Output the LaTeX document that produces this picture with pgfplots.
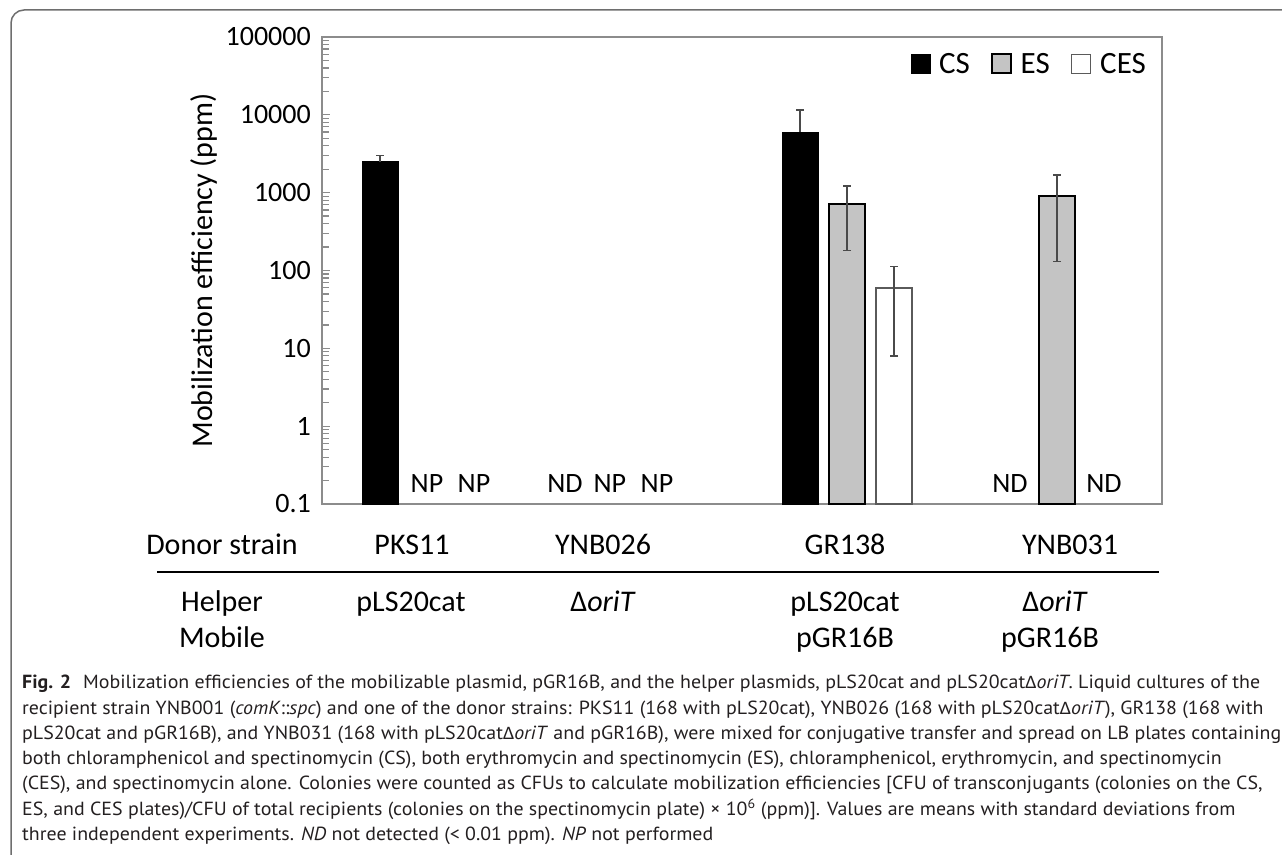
\documentclass[border=0pt]{standalone}
\usepackage{fontspec}
\setmainfont{Carlito}
\newfontfamily\capfont{PT Sans}
\newfontfamily\carl{Carlito}
\usepackage{graphicx}
\usepackage{pgfplots}
\usepackage{pgfplotstable}
\pgfplotsset{compat=1.18}

\definecolor{framegray}{HTML}{6E6E6E}
\definecolor{axgray}{HTML}{8C8C8C}
\definecolor{esgray}{HTML}{C4C4C4}
\definecolor{errgray}{HTML}{4A4A4A}
\definecolor{cesedge}{HTML}{5A5A5A}
\definecolor{captext}{HTML}{231F20}

\pgfplotsset{sqlegend/.style={legend image code/.code={\draw[##1] (0pt,-9.5pt) rectangle (19pt,9.5pt);}}}

\newcommand\tk{\fontsize{28}{32}\selectfont}
\newcommand\gl{\fontsize{30}{34}\selectfont}
\newcommand\capsize{\fontsize{19}{25}\selectfont}
\newlength\capw
\newsavebox\capbox

\newcommand\capA{\textbf{Fig. 2}\hspace{0.6em}Mobilization efficiencies of the mobilizable plasmid, pGR16B, and the helper plasmids, pLS20cat and pLS20cat{\carl Δ}\textit{oriT}. Liquid cultures of the}
\newcommand\capB{recipient strain YNB001 (\textit{comK}::\textit{spc}) and one of the donor strains: PKS11 (168 with pLS20cat), YNB026 (168 with pLS20cat{\carl Δ}\textit{oriT}), GR138 (168 with}
\newcommand\capC{pLS20cat and pGR16B), and YNB031 (168 with pLS20cat{\carl Δ}\textit{oriT} and pGR16B), were mixed for conjugative transfer and spread on LB plates containing}
\newcommand\capD{both chloramphenicol and spectinomycin (CS), both erythromycin and spectinomycin (ES), chloramphenicol, erythromycin, and spectinomycin}
\newcommand\capE{(CES), and spectinomycin alone. Colonies were counted as CFUs to calculate mobilization efficiencies [CFU of transconjugants (colonies on the CS,}
\newcommand\capF{ES, and CES plates)/CFU of total recipients (colonies on the spectinomycin plate) × 10\textsuperscript{6} (ppm)]. Values are means with standard deviations from}
\newcommand\capG{three independent experiments. \textit{ND} not detected (< 0.01 ppm). \textit{NP} not performed}

\newcommand\capline[2]{\node[anchor=base west, inner sep=0pt, text=captext] at (22pt,#2pt) {\scalebox{\capscale}[1]{\capfont\capsize #1}};}

\pgfplotstableread{
x y ep em
1 2500 500 500
3 6000 5500 5500
}\csdata
\pgfplotstableread{
x y ep em
3 710 510 530
4 900 780 770
}\esdata
\pgfplotstableread{
x y ep em
3 60 52 52
}\cesdata

\begin{document}
\sbox\capbox{\capfont\capsize\capA}%
\setlength\capw{\wd\capbox}%
\pgfmathsetmacro\capscale{1238/\capw}%
\begin{tikzpicture}
\useasboundingbox (0,0) rectangle (1282pt,854pt);
\draw[framegray, line width=1.5pt, rounded corners=13pt] (11pt,-40pt) rectangle (1320pt,844pt);

\begin{axis}[
  at={(322pt,350pt)}, anchor=south west,
  scale only axis, width=840pt, height=467pt,
  xmin=0.5, xmax=4.5,
  ymode=log, ymin=0.1, ymax=100000,
  log origin y=infty,
  ybar, bar width=36pt,
  xtick=\empty,
  ytick={0.1,1,10,100,1000,10000,100000},
  yticklabels={0.1,1,10,100,1000,10000,100000},
  minor ytick={0.2,0.3,0.4,0.5,0.6,0.7,0.8,0.9,2,3,4,5,6,7,8,9,20,30,40,50,60,70,80,90,200,300,400,500,600,700,800,900,2000,3000,4000,5000,6000,7000,8000,9000,20000,30000,40000,50000,60000,70000,80000,90000},
  ytick pos=left,
  tick align=inside,
  major tick length=8pt, minor tick length=7pt,
  every tick/.style={axgray, line width=1.2pt},
  axis line style={axgray, line width=1.5pt},
  yticklabel style={font=\tk, inner sep=0pt, xshift=-11pt},
  ylabel={Mobilization efficiency (ppm)},
  every axis y label/.style={at={(axis description cs:-0.1298,0.5)}, rotate=90, anchor=base, font=\gl},
  legend style={at={(axis description cs:0.981,0.966)}, anchor=north east, draw=none, fill=none,
    font=\fontsize{31}{31}\selectfont, legend columns=-1, inner sep=0pt,
    nodes={inner sep=0pt},
    /tikz/every odd column/.append style={column sep=9pt},
    /tikz/every even column/.append style={column sep=21pt}},
  legend cell align=left,
  clip=false,
]
\addplot[fill=black, draw=black, bar shift=-47pt, sqlegend,
  error bars/.cd, y dir=plus, y explicit,
  error bar style={errgray, line width=1.5pt},
  error mark options={errgray, rotate=90, mark size=4pt, line width=1.5pt}]
  table[x=x, y=y, y error plus=ep, y error minus=em]{\csdata};
\addlegendentry{CS}
\addplot[fill=esgray, draw=black, line width=1.8pt, bar shift=0pt, sqlegend,
  error bars/.cd, y dir=both, y explicit,
  error bar style={errgray, line width=1.5pt},
  error mark options={errgray, rotate=90, mark size=4pt, line width=1.5pt}]
  table[x=x, y=y, y error plus=ep, y error minus=em]{\esdata};
\addlegendentry{ES}
\addplot[fill=white, draw=cesedge, line width=1.5pt, bar shift=47pt, sqlegend,
  error bars/.cd, y dir=both, y explicit,
  error bar style={errgray, line width=1.5pt},
  error mark options={errgray, rotate=90, mark size=4pt, line width=1.5pt}]
  table[x=x, y=y, y error plus=ep, y error minus=em]{\cesdata};
\addlegendentry{CES}

\node[font=\tk, anchor=base, yshift=11pt] at (axis cs:1,0.1) {NP};
\node[font=\tk, anchor=base, yshift=11pt, xshift=47pt] at (axis cs:1,0.1) {NP};
\node[font=\tk, anchor=base, yshift=11pt] at (axis cs:1.657,0.1) {ND};
\node[font=\tk, anchor=base, yshift=11pt] at (axis cs:1.871,0.1) {NP};
\node[font=\tk, anchor=base, yshift=11pt] at (axis cs:2.095,0.1) {NP};
\node[font=\tk, anchor=base, yshift=11pt, xshift=-47pt] at (axis cs:4,0.1) {ND};
\node[font=\tk, anchor=base, yshift=11pt, xshift=47pt] at (axis cs:4,0.1) {ND};
\end{axis}

% table rows below the chart
\node[font=\gl, anchor=base] at (222pt,299pt) {Donor strain};
\node[font=\gl, anchor=base] at (412pt,299pt) {PKS11};
\node[font=\gl, anchor=base] at (603pt,299pt) {YNB026};
\node[font=\gl, anchor=base] at (845pt,299pt) {GR138};
\node[font=\gl, anchor=base] at (1070pt,299pt) {YNB031};
\draw[black, line width=1.5pt] (157pt,282pt) -- (1159pt,282pt);
\node[font=\gl, anchor=base] at (222pt,242pt) {Helper};
\node[font=\gl, anchor=base] at (411pt,242pt) {pLS20cat};
\node[font=\gl, anchor=base] at (603pt,242pt) {Δ\textit{oriT}};
\node[font=\gl, anchor=base] at (845pt,242pt) {pLS20cat};
\node[font=\gl, anchor=base] at (1055pt,242pt) {Δ\textit{oriT}};
\node[font=\gl, anchor=base] at (222pt,206pt) {Mobile};
\node[font=\gl, anchor=base] at (845pt,206pt) {pGR16B};
\node[font=\gl, anchor=base] at (1050pt,206pt) {pGR16B};

% caption
\capline{\capA}{165}
\capline{\capB}{139.8}
\capline{\capC}{114.6}
\capline{\capD}{89.4}
\capline{\capE}{64.2}
\capline{\capF}{39}
\capline{\capG}{13.8}
\end{tikzpicture}
\end{document}
